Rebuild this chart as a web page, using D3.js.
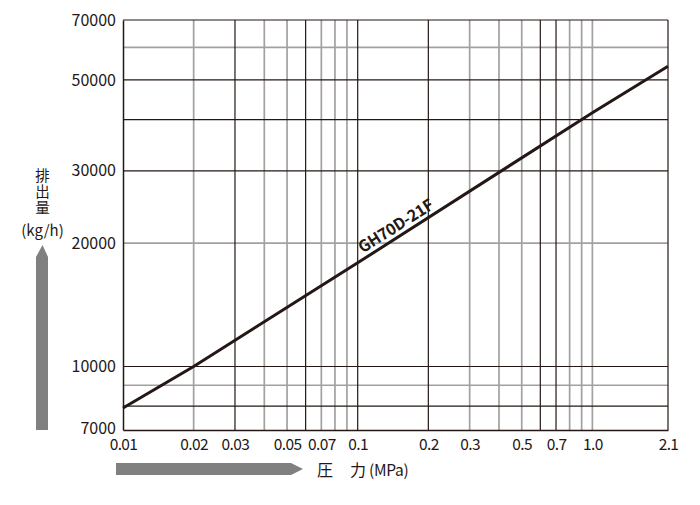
<!DOCTYPE html>
<html><head><meta charset="utf-8">
<script src="https://cdn.jsdelivr.net/npm/d3@7/dist/d3.min.js"></script>
<style>
body{margin:0;background:#fff;}
text{font-family:"Noto Sans CJK JP","Noto Sans",sans-serif;fill:#231815;}
</style></head>
<body><svg id="c" width="700" height="505"></svg>
<script>
// data
const pressure = [0.01, 0.02, 0.1, 1.0, 2.1];
const discharge = [7920, 10000, 17900, 41600, 54000];
const seriesName = "GH70D-21F";
const xTickValues = [0.01, 0.02, 0.03, 0.05, 0.07, 0.1, 0.2, 0.3, 0.5, 0.7, 1.0, 2.1];
const xTickLabels = ["0.01","0.02","0.03","0.05","0.07","0.1","0.2","0.3","0.5","0.7","1.0","2.1"];
const yTickValues = [7000, 10000, 20000, 30000, 50000, 70000];
const yTickLabels = ["7000","10000","20000","30000","50000","70000"];
const xGridDark = [0.03, 0.06, 0.1, 0.2, 0.6, 0.7];
const xGridLight = [0.02, 0.04, 0.05, 0.07, 0.08, 0.09, 0.3, 0.4, 0.5, 0.8, 0.9, 1.0];
const yGridDark = [8000, 10000, 30000, 40000, 50000];
const yGridLight = [9000, 20000, 60000];
const yTitle = "排出量";
const yUnit = "(kg/h)";
const xTitle = ["圧","力","(MPa)"];

const svg = d3.select("#c");
const x = d3.scaleLog().domain([0.01, 2.1]).range([123, 668]);
const y = d3.scaleLog().domain([7000, 70000]).range([430, 20]);
const dark = "#231815", light = "#a3a0a0";

const g = svg.append("g");
// grid
g.selectAll(".vl").data(xGridLight).join("line")
  .attr("x1", d => x(d)).attr("x2", d => x(d)).attr("y1", y(7000)).attr("y2", y(70000))
  .attr("stroke", light).attr("stroke-width", 1.7);
g.selectAll(".hl").data(yGridLight).join("line")
  .attr("y1", d => y(d)).attr("y2", d => y(d)).attr("x1", x(0.01)).attr("x2", x(2.1))
  .attr("stroke", light).attr("stroke-width", 1.7);
g.selectAll(".vd").data(xGridDark.concat([2.1])).join("line")
  .attr("x1", d => x(d)).attr("x2", d => x(d)).attr("y1", y(7000)).attr("y2", y(70000))
  .attr("stroke", dark).attr("stroke-width", 1.2);
g.selectAll(".hd").data(yGridDark.concat([70000])).join("line")
  .attr("y1", d => y(d)).attr("y2", d => y(d)).attr("x1", x(0.01)).attr("x2", x(2.1))
  .attr("stroke", dark).attr("stroke-width", 1.2);

// axes
const xAxis = d3.axisBottom(x).tickValues(xTickValues).tickSize(0).tickPadding(9)
  .tickFormat((d, i) => xTickLabels[i]);
const xa = svg.append("g").attr("transform", `translate(0,${y(7000)})`).call(xAxis);
xa.select(".domain").attr("stroke", dark).attr("stroke-width", 1.5);
xa.selectAll("text").attr("font-size", 15.5).attr("fill", dark).style("letter-spacing", "-0.6px");

const yAxis = d3.axisLeft(y).tickValues(yTickValues).tickSize(0).tickPadding(7)
  .tickFormat((d, i) => yTickLabels[i]);
const ya = svg.append("g").attr("transform", `translate(${x(0.01)},0)`).call(yAxis);
ya.select(".domain").attr("stroke", dark).attr("stroke-width", 1.5);
ya.selectAll("text").attr("font-size", 16).attr("fill", dark);
ya.selectAll(".tick").filter(d => d === 7000).select("text").attr("dy", "0.2em");

// line
const pts = pressure.map((p, i) => [p, discharge[i]]);
svg.append("path").datum(pts)
  .attr("d", d3.line().x(d => x(d[0])).y(d => y(d[1])))
  .attr("fill", "none").attr("stroke", dark).attr("stroke-width", 3);

// series label
const interp = (p) => {
  const lp = Math.log10(p);
  for (let i = 0; i < pts.length - 1; i++) {
    const a = Math.log10(pts[i][0]), b = Math.log10(pts[i+1][0]);
    if (lp >= a && lp <= b) {
      const t = (lp - a) / (b - a);
      return Math.pow(10, Math.log10(pts[i][1]) + t * (Math.log10(pts[i+1][1]) - Math.log10(pts[i][1])));
    }
  }
  return pts[pts.length-1][1];
};
const lx = 0.108, ly = interp(lx);
const ang = Math.atan2(y(discharge[4]) - y(discharge[2]), x(pressure[4]) - x(pressure[2])) * 180 / Math.PI;
svg.append("text").text(seriesName)
  .attr("transform", `translate(${x(lx)},${y(ly)}) rotate(${ang}) translate(0,-5)`)
  .attr("font-size", 16).attr("font-weight", "bold").attr("font-family", "'Noto Sans','Open Sans',sans-serif")
  .style("letter-spacing", "-0.3px");

// Y title (vertical writing)
svg.append("text").attr("x", 42.5).attr("y", 168)
  .style("writing-mode", "vertical-rl")
  .attr("font-size", 14.5).style("letter-spacing", "1.5px").text(yTitle);
svg.append("text").attr("x", 42.5).attr("y", 236).attr("text-anchor", "middle")
  .attr("font-size", 15).text(yUnit);

// arrows
const gray = "#808080";
svg.append("path").attr("fill", gray)
  .attr("d", `M36,${y(7000)} L48,${y(7000)} L48,257 L42.5,245 L36,257 Z`);
svg.append("path").attr("fill", gray)
  .attr("d", `M116,463 L291,463 L303,469 L291,475 L116,475 Z`);

// X title
svg.append("text").attr("x", 317).attr("y", 476).attr("font-size", 16).text(xTitle[0]);
svg.append("text").attr("x", 350).attr("y", 476).attr("font-size", 16).text(xTitle[1]);
svg.append("text").attr("x", 369).attr("y", 476).attr("font-size", 15.5).style("letter-spacing","-0.3px").text(xTitle[2]);
</script></body></html>
